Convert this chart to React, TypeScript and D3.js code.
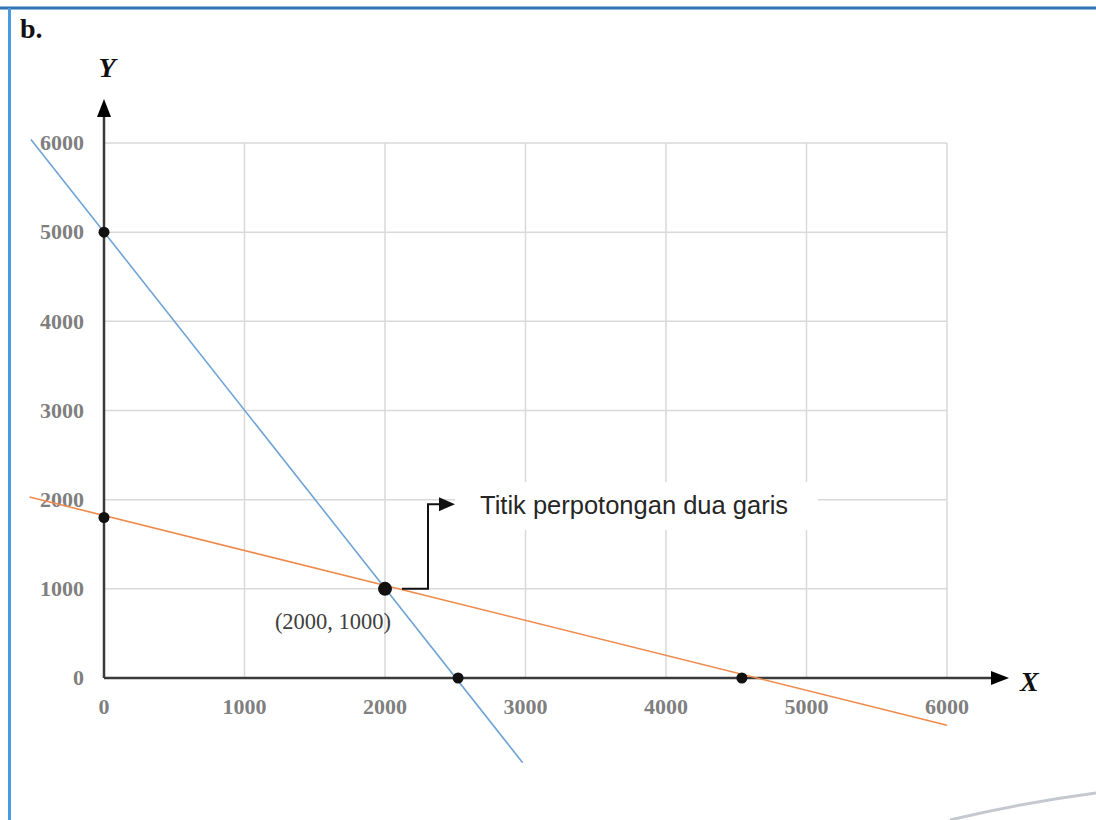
import React from "react";
import * as d3 from "d3";

// values
const xTicks = [0, 1000, 2000, 3000, 4000, 5000, 6000];
const yTicks = [0, 1000, 2000, 3000, 4000, 5000, 6000];
const blueLine: [number, number][] = [
  [-520, 6040],
  [2980, -950],
];
const orangeLine: [number, number][] = [
  [-530, 2030],
  [6000, -530],
];
const interceptPoints: [number, number][] = [
  [0, 5000],
  [2520, 0],
  [0, 1800],
  [4540, 0],
];
const intersection: [number, number] = [2000, 1000];
const intersectionLabel = "(2000, 1000)";
const noteText = "Titik perpotongan dua garis";

const W = 1096;
const H = 820;

const App = () => {
  const x = d3.scaleLinear().domain([0, 6000]).range([104, 947]);
  const y = d3.scaleLinear().domain([0, 6000]).range([678, 143]);

  const line = d3
    .line<[number, number]>()
    .x((d) => x(d[0]))
    .y((d) => y(d[1]));

  const serif = "'Liberation Serif', 'Times New Roman', serif";
  const ix = x(intersection[0]);
  const iy = y(intersection[1]);
  const elbowX = ix + 43;
  const noteY = y(1950);

  return (
    <svg
      width={W}
      height={H}
      style={{ position: "absolute", left: 0, top: 0, background: "#fff" }}
    >
      {/* frame */}
      <line x1={0} x2={W} y1={8} y2={8} stroke="#2e74b5" strokeWidth={3} />
      <line x1={9.5} x2={9.5} y1={8} y2={H} stroke="#4a9be0" strokeWidth={3} />
      <path
        d="M950,820 Q1020,803 1096,793"
        fill="none"
        stroke="#c4c9cf"
        strokeWidth={3}
      />
      <text x={20} y={38} fontFamily={serif} fontWeight="bold" fontSize={28} fill="#111">
        b.
      </text>

      {/* grid */}
      <g stroke="#d9d9d9" strokeWidth={1.5}>
        {xTicks.map((t) => (
          <line key={"gx" + t} x1={x(t)} x2={x(t)} y1={y(6000)} y2={y(0)} />
        ))}
        {yTicks.map((t) => (
          <line key={"gy" + t} x1={x(0)} x2={x(6000)} y1={y(t)} y2={y(t)} />
        ))}
      </g>

      {/* tick labels */}
      <g fontFamily={serif} fontWeight="bold" fontSize={22} fill="#7f7f7f">
        {yTicks.map((t) => (
          <text key={"ty" + t} x={84} y={y(t)} dy="0.33em" textAnchor="end">
            {t}
          </text>
        ))}
        {xTicks.map((t) => (
          <text key={"tx" + t} x={x(t)} y={714} textAnchor="middle">
            {t}
          </text>
        ))}
      </g>

      {/* axes */}
      <g stroke="#3a3a3a" strokeWidth={2.5}>
        <line x1={x(0)} x2={x(0)} y1={y(0)} y2={112} />
        <line x1={x(0)} x2={995} y1={y(0)} y2={y(0)} />
      </g>
      <path d={`M${x(0)},99 L${x(0) - 7},117 L${x(0) + 7},117 Z`} fill="#000" />
      <path d={`M1009,${y(0)} L991,${y(0) - 7} L991,${y(0) + 7} Z`} fill="#000" />
      <text x={107} y={77} textAnchor="middle" fontFamily={serif} fontStyle="italic" fontWeight="bold" fontSize={28} fill="#111">
        Y
      </text>
      <text x={1020} y={691} fontFamily={serif} fontStyle="italic" fontWeight="bold" fontSize={28} fill="#111">
        X
      </text>

      {/* lines */}
      <path d={line(blueLine) ?? ""} fill="none" stroke="#6fa4d6" strokeWidth={1.6} />
      <path d={line(orangeLine) ?? ""} fill="none" stroke="#ee8a4c" strokeWidth={1.6} />

      {/* points */}
      {interceptPoints.map((p, i) => (
        <circle key={"p" + i} cx={x(p[0])} cy={y(p[1])} r={5.5} fill="#111" />
      ))}
      <circle cx={ix} cy={iy} r={7} fill="#111" />
      <text x={ix - 52} y={629} textAnchor="middle" fontFamily={serif} fontSize={22.5} fill="#404040">
        {intersectionLabel}
      </text>

      {/* annotation */}
      <rect x={455} y={482} width={363} height={48} fill="#fff" />
      <path
        d={`M${ix + 17},${iy} H${elbowX} V${noteY} H${elbowX + 14}`}
        fill="none"
        stroke="#111"
        strokeWidth={2}
      />
      <path d={`M${elbowX + 27},${noteY} L${elbowX + 11},${noteY - 7} L${elbowX + 11},${noteY + 7} Z`} fill="#111" />
      <text x={480} y={514} fontFamily="'Liberation Sans', Arial, sans-serif" fontSize={25.5} fill="#262626">
        {noteText}
      </text>
    </svg>
  );
};

export default App;
